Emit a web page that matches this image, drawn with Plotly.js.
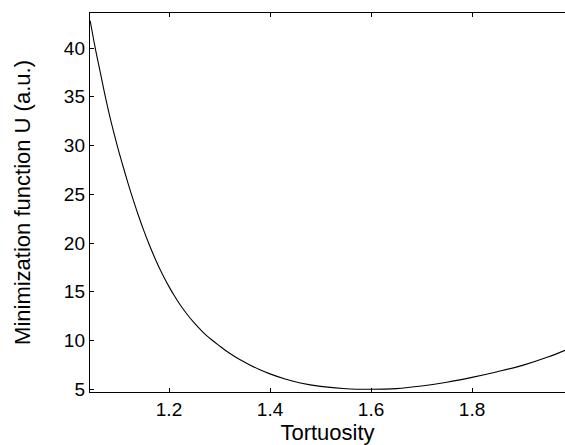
<!DOCTYPE html>
<html>
<head>
<meta charset="utf-8">
<script src="https://cdn.plot.ly/plotly-3.0.1.min.js"></script>
<style>html,body{margin:0;padding:0;background:#fff;}#chart{width:565px;height:445px;}</style>
</head>
<body>
<div id="chart"></div>
<script>
var tortuosity = [1.044, 1.054, 1.064, 1.074, 1.086, 1.098, 1.11, 1.12, 1.13, 1.14, 1.15, 1.16, 1.17, 1.18, 1.19, 1.20, 1.21, 1.22, 1.235, 1.25, 1.268, 1.285, 1.30, 1.32, 1.34, 1.36, 1.38, 1.40, 1.43, 1.46, 1.50, 1.55, 1.60, 1.65, 1.70, 1.75, 1.80, 1.85, 1.90, 1.95, 1.984];
var minimizationU = [42.8, 40.0, 37.5, 35.0, 32.3, 29.9, 27.7, 25.95, 24.3, 22.75, 21.3, 19.95, 18.7, 17.55, 16.5, 15.53, 14.64, 13.83, 12.75, 11.8, 10.82, 10.05, 9.45, 8.7, 8.05, 7.5, 7.0, 6.58, 6.05, 5.65, 5.3, 5.06, 5.0, 5.07, 5.33, 5.72, 6.22, 6.8, 7.45, 8.3, 9.0];
var xTicks = [1.2, 1.4, 1.6, 1.8];
var yTicks = [5, 10, 15, 20, 25, 30, 35, 40];

var tickFont = {family: 'Liberation Sans, Arial, sans-serif', size: 19, color: '#000'};
var titleFont = {family: 'Liberation Sans, Arial, sans-serif', size: 22, color: '#000'};

var trace = {
  x: tortuosity, y: minimizationU, type: 'scatter', mode: 'lines',
  line: {color: '#000', width: 1.1, shape: 'spline', smoothing: 1},
  hoverinfo: 'none', showlegend: false
};
var traceTop = {
  x: tortuosity, y: minimizationU, xaxis: 'x2', type: 'scatter', mode: 'lines',
  line: {color: 'rgba(0,0,0,0)', width: 0}, hoverinfo: 'none', showlegend: false
};

var xr = [1.0436, 1.984];
var layout = {
  width: 565, height: 445,
  margin: {l: 90, r: 0, t: 13, b: 53},
  paper_bgcolor: '#fff', plot_bgcolor: '#fff',
  font: tickFont,
  xaxis: {
    range: xr, tickvals: xTicks, ticktext: xTicks.map(function(v){return v.toFixed(1);}),
    ticks: 'inside', ticklen: 4, tickwidth: 1, tickcolor: '#000',
    showline: true, linecolor: '#000', linewidth: 1.2, mirror: false,
    showgrid: false, zeroline: false, tickfont: tickFont,
    title: {text: 'Tortuosity', font: titleFont, standoff: 1}
  },
  xaxis2: {
    range: xr, overlaying: 'x', side: 'top', tickvals: xTicks,
    ticks: 'inside', ticklen: 4, tickwidth: 1, tickcolor: '#000',
    showline: true, linecolor: '#000', linewidth: 1.2,
    showticklabels: false, showgrid: false, zeroline: false
  },
  yaxis: {
    range: [4.72, 43.6], tickvals: yTicks, ticktext: yTicks.map(String),
    ticks: 'inside', ticklen: 4, tickwidth: 1, tickcolor: '#000',
    showline: true, linecolor: '#000', linewidth: 1.2, mirror: false,
    showgrid: false, zeroline: false, tickfont: tickFont,
    title: {text: 'Minimization function U (a.u.)', font: titleFont, standoff: 27}
  }
};

Plotly.newPlot('chart', [trace, traceTop], layout, {staticPlot: true, displayModeBar: false});
</script>
</body>
</html>
